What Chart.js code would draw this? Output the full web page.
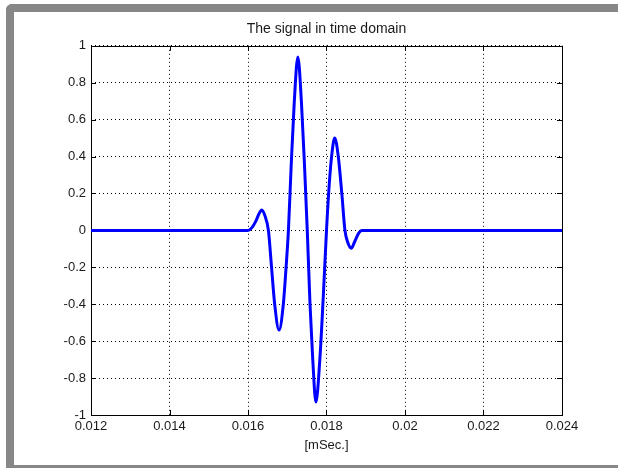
<!DOCTYPE html>
<html>
<head>
<meta charset="utf-8">
<title>The signal in time domain</title>
<script src="https://cdn.jsdelivr.net/npm/chart.js@4.4.0/dist/chart.umd.min.js"></script>
<style>
  html, body { margin: 0; padding: 0; background: #fff; }
  #wrap { position: relative; width: 618px; height: 468px; overflow: hidden; }
  #frame {
    position: absolute; left: 6px; top: 4px; width: 640px; height: 453px;
    border-left: 8px solid #878787; border-top: 8px solid #878787; border-bottom: 8px solid #878787;
    border-top-left-radius: 6px; pointer-events: none;
  }
  canvas { position: absolute; left: 0; top: 0; }
</style>
</head>
<body>
<div id="wrap">
  <canvas id="chart" width="618" height="468"></canvas>
  <div id="frame"></div>
</div>
<script>
// time axis [mSec.] and signal amplitude
const timeValues = [
  0.012, 0.0160, 0.0161, 0.0162, 0.01628, 0.01635, 0.01643, 0.01652,
  0.0166, 0.01668, 0.01679, 0.0169, 0.01697, 0.01703,
  0.0171, 0.01718, 0.01727, 0.01736, 0.01744, 0.01751,
  0.01758, 0.01765, 0.01773, 0.01783, 0.01792, 0.018,
  0.01807, 0.01814, 0.01821, 0.0183, 0.01839, 0.01847,
  0.01855, 0.01863, 0.01872, 0.01882, 0.0189, 0.024
];
const signalValues = [
  0, 0, 0.015, 0.05, 0.09, 0.11, 0.08, 0,
  -0.2, -0.4, -0.54, -0.4, -0.2, 0,
  0.35, 0.7, 0.94, 0.7, 0.35, 0,
  -0.4, -0.7, -0.93, -0.7, -0.35, 0,
  0.25, 0.42, 0.5, 0.4, 0.2, 0,
  -0.07, -0.097, -0.06, -0.015, 0, 0
];
const xTicks = [0.012, 0.014, 0.016, 0.018, 0.02, 0.022, 0.024];
const yTicks = [-1, -0.8, -0.6, -0.4, -0.2, 0, 0.2, 0.4, 0.6, 0.8, 1];

const fontFamily = "'Liberation Sans', Arial, sans-serif";
const textColor = "#1a1a1a";

// solid axes box with inward tick marks, matlab style
const boxPlugin = {
  id: "box",
  beforeDatasetsDraw(chart) {
    const { ctx, chartArea: a, scales } = chart;
    const len = 5;
    ctx.save();
    ctx.strokeStyle = "#000";
    ctx.lineWidth = 1;
    ctx.beginPath();
    xTicks.forEach((v) => {
      const px = Math.round(scales.x.getPixelForValue(v)) + 0.5;
      ctx.moveTo(px, a.bottom);
      ctx.lineTo(px, a.bottom - len);
      ctx.moveTo(px, a.top);
      ctx.lineTo(px, a.top + len);
    });
    yTicks.forEach((v) => {
      const py = Math.round(scales.y.getPixelForValue(v)) + 0.5;
      ctx.moveTo(a.left, py);
      ctx.lineTo(a.left + len, py);
      ctx.moveTo(a.right, py);
      ctx.lineTo(a.right - len, py);
    });
    ctx.stroke();
    ctx.strokeRect(Math.round(a.left) + 0.5, Math.round(a.top) + 0.5,
      Math.round(a.right - a.left), Math.round(a.bottom - a.top));
    ctx.restore();
  },
};

const ctx = document.getElementById("chart").getContext("2d");

new Chart(ctx, {
  type: "line",
  data: {
    datasets: [
      {
        data: timeValues.map((t, i) => ({ x: t, y: signalValues[i] })),
        borderColor: "#0000ff",
        borderWidth: 3,
        pointRadius: 0,
        cubicInterpolationMode: "monotone",
        fill: false,
      },
    ],
  },
  options: {
    responsive: false,
    animation: false,
    devicePixelRatio: 1,
    layout: { padding: { left: 0, right: 56, top: 0, bottom: 0 } },
    plugins: {
      legend: { display: false },
      tooltip: { enabled: false },
      title: {
        display: true,
        fullSize: false,
        text: "The signal in time domain",
        color: textColor,
        font: { family: fontFamily, size: 14, weight: "normal" },
        padding: { top: 21, bottom: 8 },
      },
    },
    scales: {
      x: {
        type: "linear",
        min: 0.012,
        max: 0.024,
        afterBuildTicks: (s) => { s.ticks = xTicks.map((v) => ({ value: v })); },
        afterFit: (s) => { s.height = 53; },
        ticks: {
          callback: (v) => String(v),
          color: textColor,
          font: { family: fontFamily, size: 13 },
          padding: 4,
          maxRotation: 0,
          autoSkip: false,
        },
        grid: { color: "#000", lineWidth: 1, drawTicks: false },
        border: { display: false, dash: [1, 3] },
        title: {
          display: true,
          text: "[mSec.]",
          color: textColor,
          font: { family: fontFamily, size: 13 },
          padding: { top: 0, bottom: 15 },
        },
      },
      y: {
        min: -1,
        max: 1,
        afterBuildTicks: (s) => { s.ticks = yTicks.map((v) => ({ value: v })); },
        afterFit: (s) => { s.width = 91; },
        ticks: {
          callback: (v) => String(v),
          color: textColor,
          font: { family: fontFamily, size: 13 },
          padding: 5,
          autoSkip: false,
        },
        grid: { color: "#000", lineWidth: 1, drawTicks: false },
        border: { display: false, dash: [1, 3] },
      },
    },
  },
  plugins: [boxPlugin],
});
</script>
</body>
</html>
